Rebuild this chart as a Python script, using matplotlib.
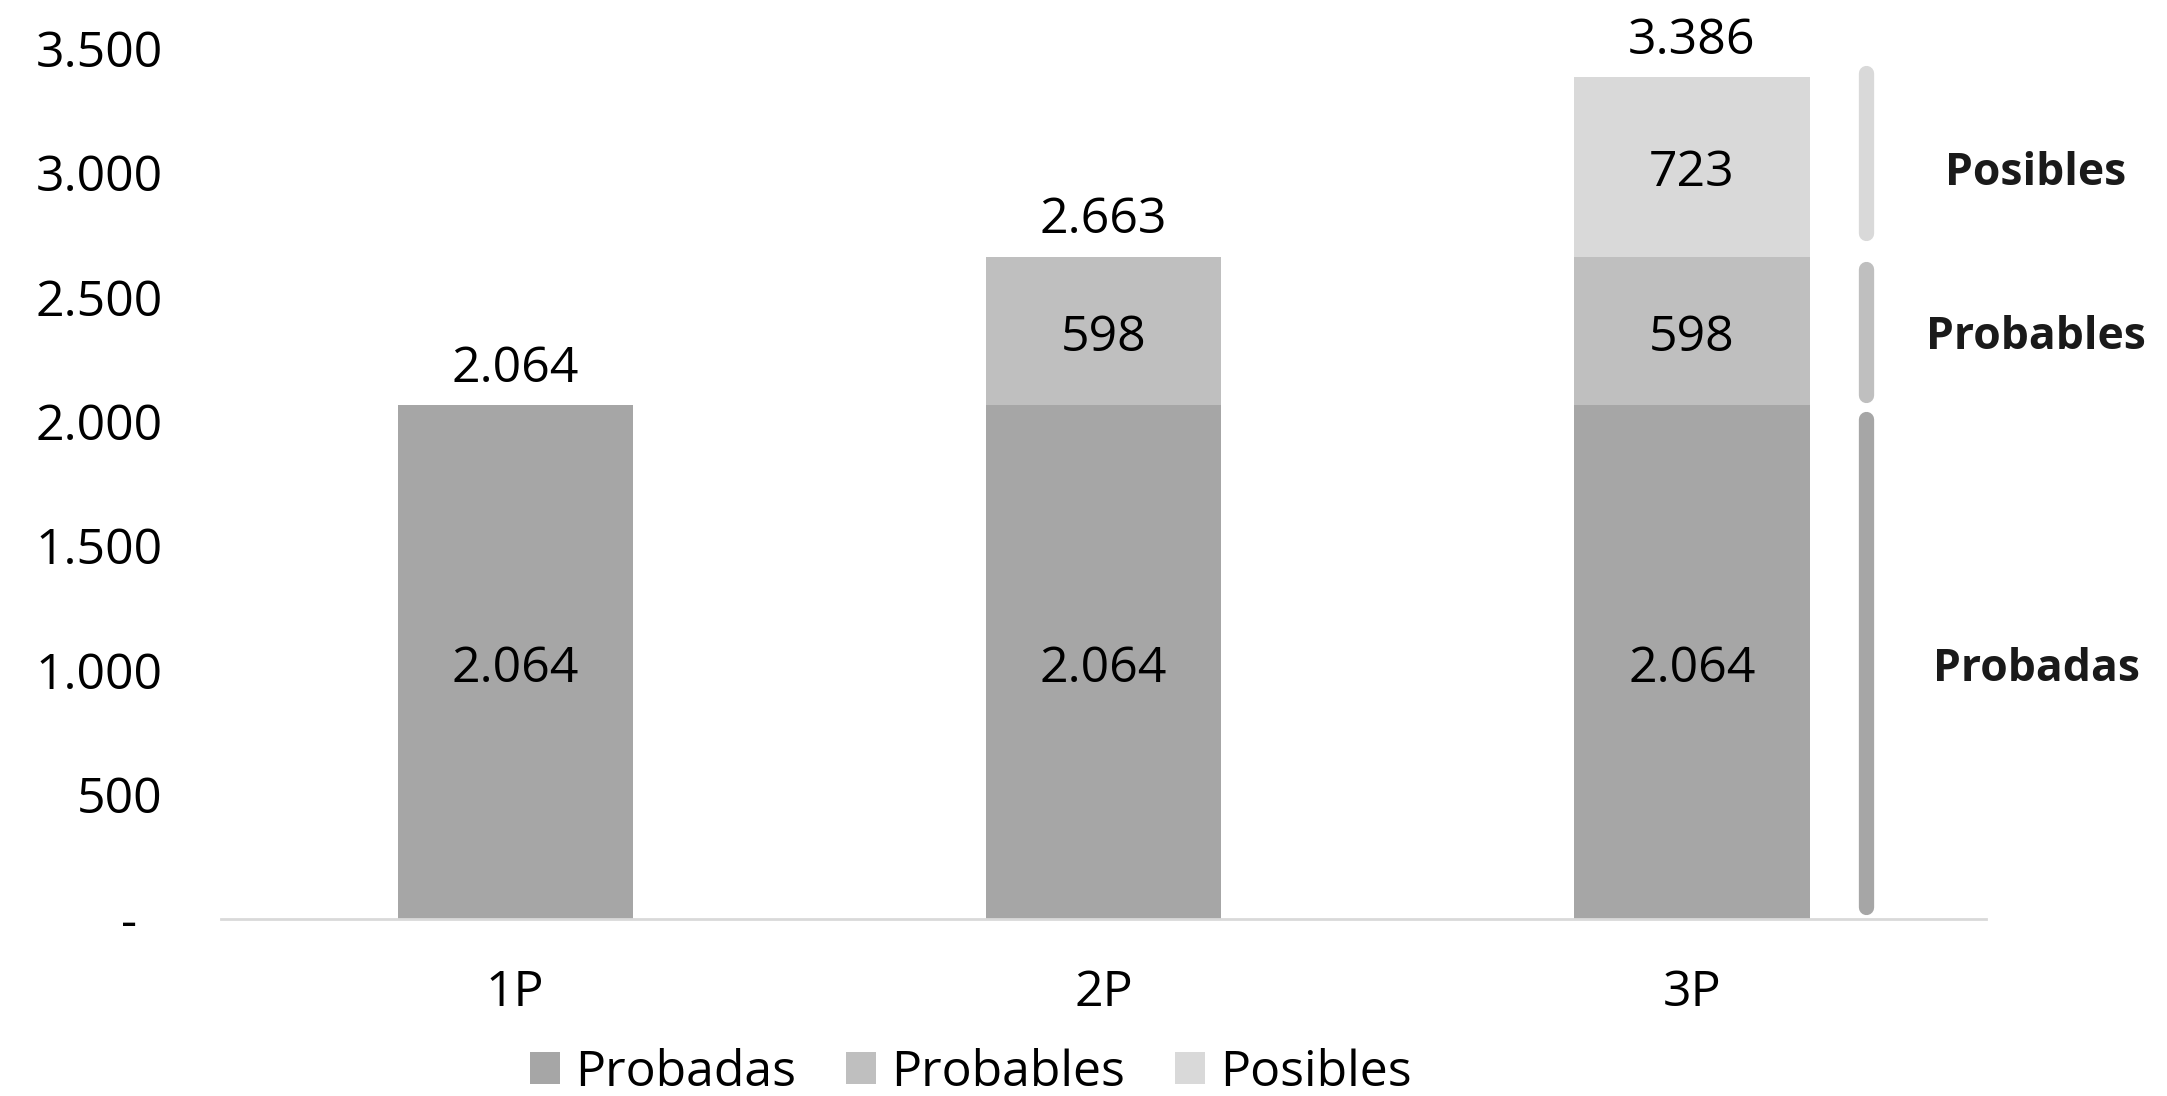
import matplotlib
matplotlib.use("Agg")
import matplotlib.pyplot as plt
from matplotlib.patches import Patch

categories = ["1P", "2P", "3P"]
probadas = [2064, 2064, 2064]
probables = [0, 598, 598]
posibles = [0, 0, 723]
totals = [2064, 2663, 3386]
series_names = ["Probadas", "Probables", "Posibles"]
yticks = [0, 500, 1000, 1500, 2000, 2500, 3000, 3500]

colors = ["#A6A6A6", "#BFBFBF", "#D9D9D9"]

def fmt(v):
    return "-  " if v == 0 else f"{v:,.0f}".replace(",", ".")

plt.rcParams['font.family'] = ['Open Sans', 'DejaVu Sans']

FS = 36

fig = plt.figure(figsize=(21.67, 10.96), dpi=100)
ax = fig.add_axes([0.102, 0.1615, 0.8145, 0.7947])

x = list(range(len(categories)))
width = 0.4
series = [probadas, probables, posibles]
bottoms = [0] * len(categories)
for vals, c, name in zip(series, colors, series_names):
    ax.bar(x, vals, width, bottom=bottoms, color=c, label=name, zorder=2)
    for i, v in enumerate(vals):
        if v > 0:
            ax.annotate(fmt(v), (x[i], bottoms[i] + v / 2), xytext=(0, -5),
                        textcoords="offset points", ha="center", va="center",
                        fontsize=FS, color="black")
    bottoms = [b + v for b, v in zip(bottoms, vals)]

for i, t in enumerate(totals):
    ax.annotate(fmt(t), (x[i], bottoms[i]), xytext=(0, 8), textcoords="offset points",
                ha="center", va="bottom", fontsize=FS, color="black",
                annotation_clip=False)

ax.set_xlim(-0.5, 2.5)
ax.set_ylim(0, 3500)
ax.set_yticks(yticks)
ax.set_yticklabels([fmt(v) for v in yticks], fontsize=FS)
ax.set_xticks(x)
ax.set_xticklabels(categories, fontsize=FS)
ax.tick_params(axis="both", length=0)
ax.tick_params(axis="y", pad=42)
ax.tick_params(axis="x", pad=36)
for s in ["top", "right", "left"]:
    ax.spines[s].set_visible(False)
ax.spines["bottom"].set_color("#D9D9D9")
ax.spines["bottom"].set_linewidth(2)

# right-side brackets and labels
last = len(categories) - 1
bx = 2.296
lx = 2.585
segs = []
base = 0
for vals in series:
    v = vals[last]
    segs.append((base, base + v))
    base += v
pads = [(50, 55), (40, 50), (95, -15)]
for (lo, hi), c, name, (plo, phi) in zip(segs, colors, series_names, pads):
    ax.plot([bx, bx], [lo + plo, hi - phi], color=c, lw=11,
            solid_capstyle="round", clip_on=False, zorder=3)
    ax.annotate(name, (lx, (lo + hi) / 2), xytext=(0, -5), textcoords="offset points",
                ha="center", va="center", fontsize=32, fontweight="bold",
                color="#1a1a1a", annotation_clip=False)

handles = [Patch(facecolor=c, edgecolor="none") for c in colors]
fig.legend(handles, series_names, loc="center", bbox_to_anchor=(0.448, 0.021),
           ncol=3, frameon=False, fontsize=FS, handlelength=0.6, handleheight=0.6,
           handletextpad=0.3, columnspacing=1.0)

fig.savefig("out.png", dpi=100, facecolor="white")
